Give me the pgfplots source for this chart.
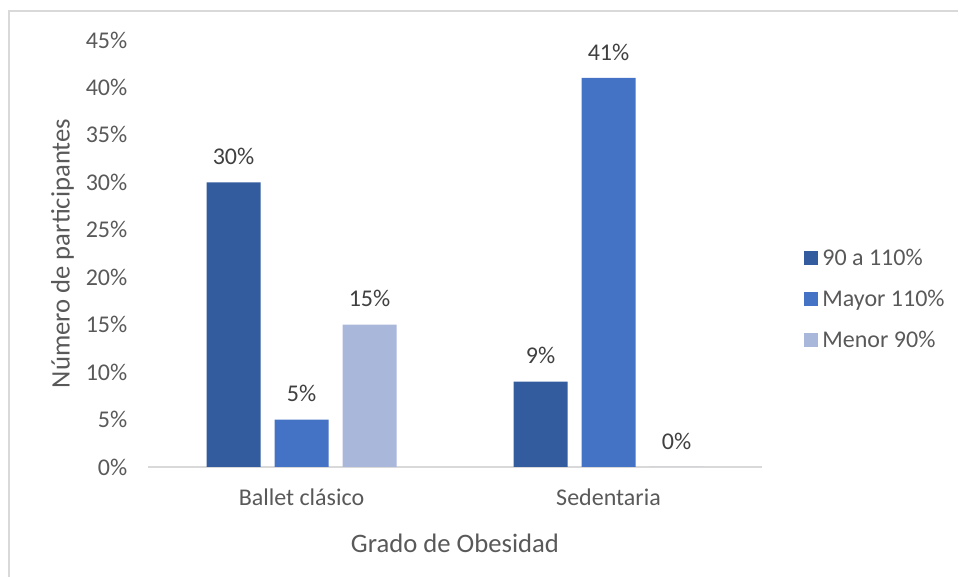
\documentclass[border=0pt]{standalone}
\usepackage{pgfplots}
\pgfplotsset{compat=1.18}
\usepackage{fontspec}
\setmainfont{Carlito}
\definecolor{cA}{HTML}{335C9F}
\definecolor{cB}{HTML}{4472C4}
\definecolor{cC}{HTML}{A9B7DB}
\definecolor{txt}{HTML}{595959}
\definecolor{lbl}{HTML}{404040}
\definecolor{axl}{HTML}{D9D9D9}
\begin{document}
\begin{tikzpicture}[x=0.75pt,y=0.75pt]
\useasboundingbox (0,0) rectangle (959,577);
\draw[color=axl,line width=1.5pt] (9,0) -- (9,566) -- (958,566);
\begin{axis}[
  at={(148*0.75pt,110*0.75pt)}, anchor=south west,
  scale only axis, width=460.5pt, height=320.25pt,
  ybar=10.5pt, bar width=40.5pt,
  xmin=-0.5, xmax=1.5, ymin=0, ymax=45,
  xtick={0,1}, xticklabels={Ballet clásico, Sedentaria},
  ytick={0,5,...,45},
  yticklabel={\pgfmathprintnumber{\tick}\%},
  /pgf/number format/assume math mode=true,
  axis y line*=left, axis x line*=bottom,
  y axis line style={draw=none},
  x axis line style={draw=axl, line width=1pt},
  major tick length=0pt,
  tick label style={font=\fontsize{18}{21}\selectfont, color=txt},
  yticklabel style={xshift=-12pt},
  xticklabel style={yshift=-13pt},
  xlabel={Grado de Obesidad}, ylabel={Número de participantes},
  label style={font=\fontsize{20}{24}\selectfont, color=txt},
  xlabel style={yshift=-14pt},
  ylabel style={yshift=2pt},
  nodes near coords={\pgfmathprintnumber{\pgfplotspointmeta}\%},
  nodes near coords style={font=\fontsize{18}{21}\selectfont, color=lbl, inner sep=0pt, anchor=south, yshift=13pt},
  legend style={at={(1.061,0.393)}, anchor=west, draw=none, fill=none,
    font=\fontsize{18}{21}\selectfont, text=txt, row sep=13pt,
    /tikz/every even column/.append style={column sep=0pt},
    nodes={inner xsep=3.5pt}},
  legend cell align=left,
  legend image code/.code={\fill[#1,draw=none] (0pt,-5.25pt) rectangle (10.5pt,5.25pt);},
  clip=false,
]
\addplot[fill=cA, draw=none] coordinates {(0,30) (1,9)};
\addplot[fill=cB, draw=none] coordinates {(0,5) (1,41)};
\addplot[fill=cC, draw=none] coordinates {(0,15) (1,0)};
\legend{90 a 110\%, Mayor 110\%, Menor 90\%}
\end{axis}
\end{tikzpicture}
\end{document}
